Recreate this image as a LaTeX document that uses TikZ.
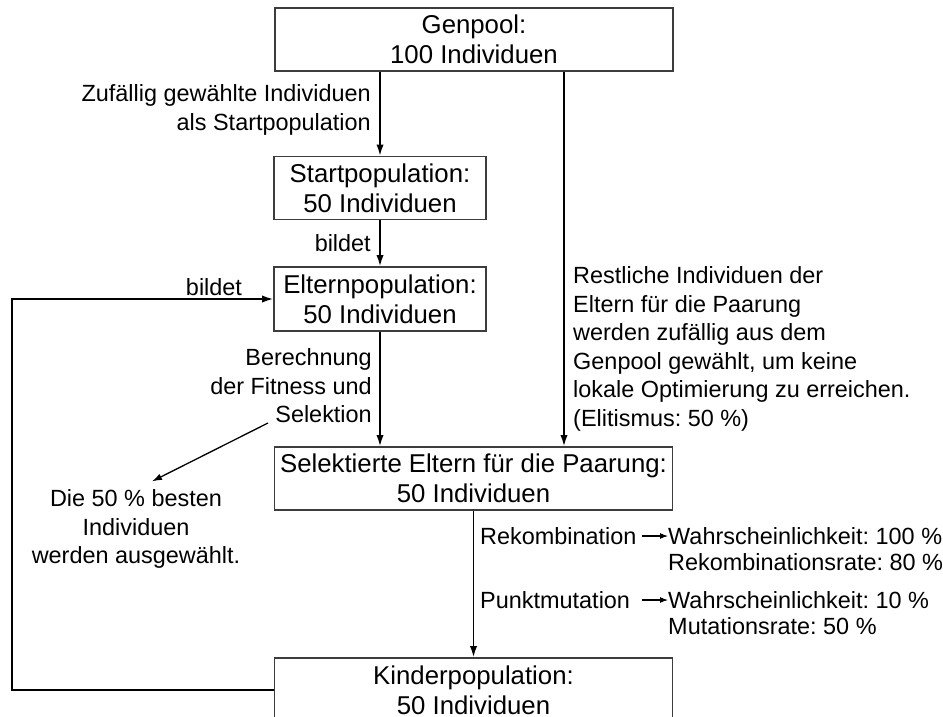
\documentclass[tikz,border=0pt]{standalone}
\usepackage{fontspec}
\setsansfont{Liberation Sans}
\usetikzlibrary{arrows.meta,positioning,calc}
\definecolor{Canvas}{HTML}{FFFFFF}
\definecolor{Frame}{HTML}{3C3C3C}
\definecolor{Ink}{HTML}{000000}
\frenchspacing

\begin{document}
\begin{tikzpicture}[x=0.3mm,y=-0.3mm,font=\sffamily\fontsize{20pt}{24.3pt}\selectfont,>=Latex,popbox/.style={rectangle,draw=Frame,line width=1.1pt,fill=Canvas,minimum height=18.9mm,align=center,inner sep=0pt,font=\sffamily\fontsize{22pt}{25.6pt}\selectfont},flowline/.style={draw=Ink,line width=1.5pt,-{Latex[length=3.4mm,width=2.2mm]}},thinline/.style={draw=Ink,line width=1.1pt,-{Latex[length=3mm,width=2mm]}},rateline/.style={draw=Ink,line width=0.9pt,-{Latex[length=2.4mm,width=1.8mm]}},note/.style={inner sep=0pt,text=Ink}]
\useasboundingbox (0,0) rectangle (943,717);
\fill[Canvas] (0,0) rectangle (943,717);
\node[popbox,minimum width=119.4mm] (gen) at (474,39.5) {Genpool:\\100 Individuen};
\node[popbox,minimum width=63.6mm] (start) at (380,188) {Startpopulation:\\50 Individuen};
\node[popbox,minimum width=63.6mm,minimum height=19.2mm] (elt) at (380,299) {Elternpopulation:\\50 Individuen};
\node[popbox,minimum width=119.4mm] (sel) at (473.5,478.5) {Selektierte Eltern für die Paarung:\\50 Individuen};
\node[popbox,minimum width=119.4mm,minimum height=19.2mm] (kid) at (473.5,690) {Kinderpopulation:\\50 Individuen};
\node[note,anchor=east,align=right] (randlab) at (371,110) {Zufällig gewählte Individuen\\als Startpopulation};
\node[note,anchor=east] (formlab) at (371,243) {bildet};
\node[note] (looplab) at (214,287) {bildet};
\node[note,anchor=east,align=right] (fitlab) at (372,386) {Berechnung\\der Fitness und\\Selektion};
\node[note,align=center] (best) at (136,529) {Die 50 \% besten\\Individuen\\werden ausgewählt.};
\node[note,anchor=west,align=left] (restlab) at (573,349) {Restliche Individuen der\\Eltern für die Paarung\\werden zufällig aus dem\\Genpool gewählt, um keine\\lokale Optimierung zu erreichen.\\(Elitismus: 50 \%)};
\node[note,anchor=west,text width=48.6mm,align=left] (rek) at (480,536) {Rekombination};
\node[note,anchor=west] (wk1) at (668,536) {Wahrscheinlichkeit: 100 \%};
\node[note,anchor=west] (rr) at (668,562) {Rekombinationsrate: 80 \%};
\node[note,anchor=west,text width=48.6mm,align=left] (pm) at (480,600) {Punktmutation};
\node[note,anchor=west] (wk2) at (668,600) {Wahrscheinlichkeit: 10 \%};
\node[note,anchor=west] (mr) at (668,626) {Mutationsrate: 50 \%};
\coordinate (poolx) at (564,0);
\coordinate (loopx) at (12,0);
\coordinate (fitcut) at (268,423);
\draw[flowline] (gen.south -| start.north)--(start.north);
\draw[flowline] (start)--(elt);
\draw[flowline] (elt)--(elt.south |- sel.north);
\draw[flowline] (gen.south -| poolx)--(sel.north -| poolx);
\draw[flowline] (sel)--(sel.south |- kid.north);
\draw[flowline] (kid.west)--(kid.west -| loopx) |- (elt.west);
\draw[thinline] (fitcut)--([shift={(16,-8)}]best.north);
\draw[rateline] (rek.east)--(wk1.west);
\draw[rateline] (pm.east)--(wk2.west);
\end{tikzpicture}
\end{document}
